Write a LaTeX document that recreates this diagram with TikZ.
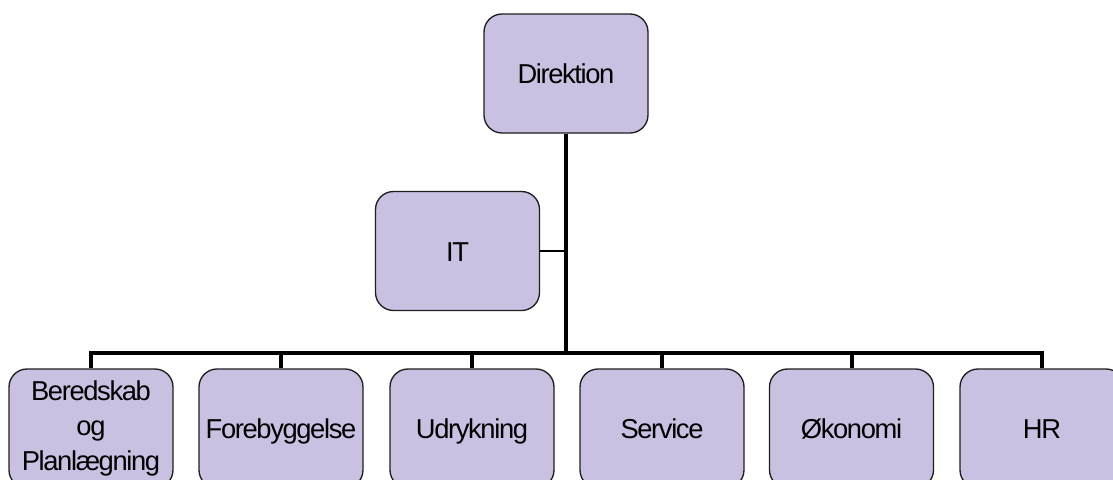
\documentclass[tikz,border=0pt]{standalone}
\usepackage{fontspec}
\setmainfont[LetterSpace=-5]{Liberation Sans}
\definecolor{boxfill}{RGB}{202,192,226}
\definecolor{boxline}{RGB}{30,30,30}
\begin{document}
\begin{tikzpicture}[x=0.75pt,y=-0.75pt,
  orgbox/.style={draw=boxline,line width=1pt,fill=boxfill,rounded corners=13.5pt,
    minimum width=123pt,minimum height=89.25pt,inner sep=0pt,align=center,
    font=\fontsize{20.5pt}{26.25pt}\selectfont},
  oneline/.style={orgbox,text height=18pt,text depth=3pt},
  bus/.style={line width=3pt,black},
  side/.style={line width=2.2pt,black}]
\useasboundingbox (0,0) rectangle (1113,479);
\clip (0,0) rectangle (1113,479);
\node[oneline] (dir) at (566,73.5) {Direktion};
\node[oneline] (it) at (457.5,251) {IT};
\node[orgbox] (b1) at (91,428.5) {Beredskab\\og\\Planlægning};
\node[oneline] (b2) at (281,428.5) {Forebyggelse};
\node[oneline] (b3) at (472,428.5) {Udrykning};
\node[oneline] (b4) at (662,428.5) {Service};
\node[oneline] (b5) at (851.5,428.5) {Økonomi};
\node[oneline] (b6) at (1042,428.5) {HR};
\coordinate (hub) at (566,353);
\coordinate (itj) at (566,251);
\draw[bus] (dir.south) -- (hub);
\draw[side] (it.east) -- (itj);
\draw[bus] (b1.north) |- (hub);
\draw[bus] (b6.north) |- (hub);
\foreach \n in {b2,b3,b4,b5} \draw[bus] (\n.north) -- (\n.north |- hub);
\end{tikzpicture}
\end{document}
